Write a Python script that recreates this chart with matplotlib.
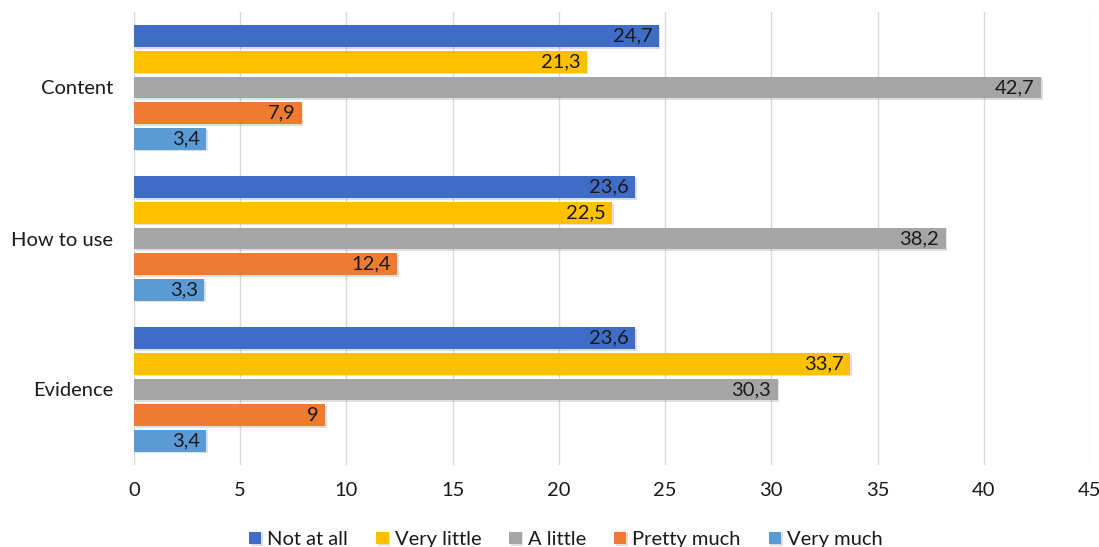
import matplotlib.pyplot as plt
import matplotlib.patheffects as pe
import numpy as np

categories = ["Evidence", "How to use", "Content"]
series_names = ["Not at all", "Very little", "A little", "Pretty much", "Very much"]
not_at_all = [23.6, 23.6, 24.7]
very_little = [33.7, 22.5, 21.3]
a_little = [30.3, 38.2, 42.7]
pretty_much = [9, 12.4, 7.9]
very_much = [3.4, 3.3, 3.4]
colors = ["#3F6CC4", "#FFC000", "#A5A5A5", "#EE7B30", "#5B9BD5"]

values = [not_at_all, very_little, a_little, pretty_much, very_much]

plt.rcParams["font.family"] = ["Lato", "DejaVu Sans"]

fig = plt.figure(figsize=(10.99, 5.47), dpi=100)
ax = fig.add_axes([134 / 1099, 82 / 547, 956 / 1099, 453 / 547])

y = np.arange(len(categories))
slot = 0.17
height = 0.145
shadow = [pe.SimplePatchShadow(offset=(1.2, -1.2), alpha=0.15), pe.Normal()]

for i, (name, vals, col) in enumerate(zip(series_names, values, colors)):
    pos = y + (2 - i) * slot
    bars = ax.barh(pos, vals, height=height, color=col, label=name, zorder=3)
    for b in bars:
        b.set_path_effects(shadow)
    for p, v in zip(pos, vals):
        txt = f"{v:g}".replace(".", ",")
        ax.text(v - 0.3, p, txt, ha="right", va="center", fontsize=14.5,
                color="#1a1a1a", zorder=4)

ax.set_xlim(0, 45)
ax.set_ylim(-0.5, 2.5)
ax.set_xticks(np.arange(0, 46, 5))
ax.set_yticks(y)
ax.set_yticklabels(categories)
ax.tick_params(axis="both", length=0, labelsize=14.5, colors="#1a1a1a")
ax.tick_params(axis="x", pad=12)
ax.tick_params(axis="y", pad=15)
ax.grid(axis="x", color="#D9D9D9", linewidth=1, zorder=0)
for s in ax.spines.values():
    s.set_visible(False)

leg = fig.legend(loc="lower center", bbox_to_anchor=(0.515, -0.035), ncol=5,
                 frameon=False, fontsize=14.5, handlelength=0.6, handleheight=0.6,
                 handletextpad=0.3, columnspacing=1.4)
for t in leg.get_texts():
    t.set_color("#1a1a1a")

fig.savefig("out.png", dpi=100)
